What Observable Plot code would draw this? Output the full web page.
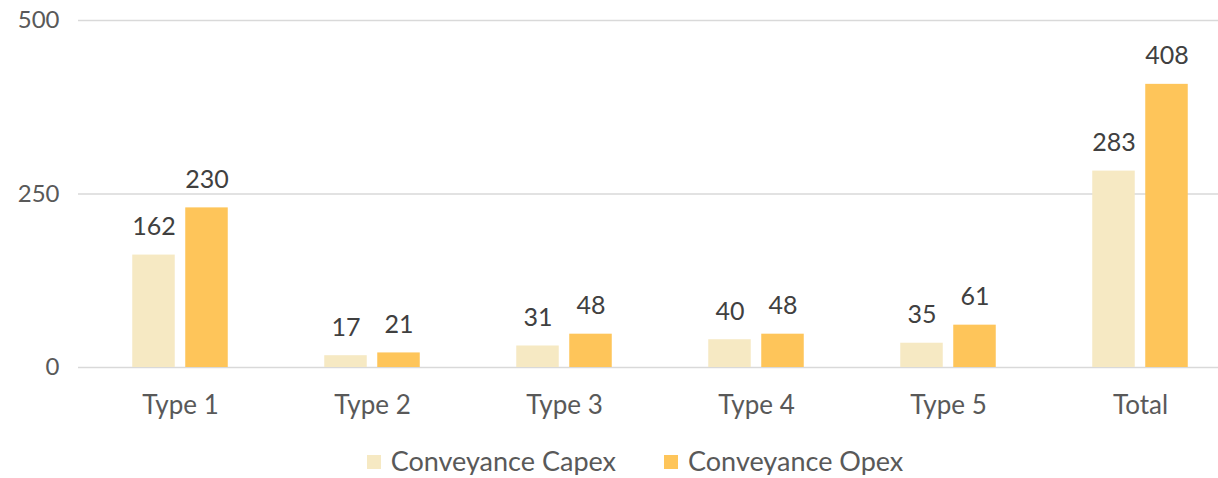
<!DOCTYPE html>
<html>
<head>
<meta charset="utf-8">
<script src="https://cdn.jsdelivr.net/npm/d3@7"></script>
<script src="https://cdn.jsdelivr.net/npm/@observablehq/plot@0.6"></script>
<style>
  body { margin: 0; background: #fff; font-family: Lato, "Open Sans", sans-serif; }
  #legend { display: flex; justify-content: center; gap: 48px; padding-top: 17px; font-size: 27px; line-height: 28px; color: #595959; padding-left: 52px; }
  #legend span.sw { display: inline-block; width: 14px; height: 14px; margin-right: 10px; vertical-align: 2px; }
</style>
</head>
<body>
<div id="chart"></div>
<script>
const categories = ["Type 1", "Type 2", "Type 3", "Type 4", "Type 5", "Total"];
const capex = [162, 17, 31, 40, 35, 283];
const opex = [230, 21, 48, 48, 61, 408];
const seriesNames = ["Conveyance Capex", "Conveyance Opex"];
const seriesColors = ["#F6E9C3", "#FEC55A"];
const yTicks = [0, 250, 500];

const capexData = categories.map((c, i) => ({category: c, value: capex[i]}));
const opexData = categories.map((c, i) => ({category: c, value: opex[i]}));

const font = "Lato, 'Open Sans', sans-serif";
const chart = Plot.plot({
  width: 1218,
  height: 430,
  marginTop: 20,
  marginBottom: 63,
  marginLeft: 78,
  marginRight: 0,
  style: {fontFamily: font, background: "#fff"},
  x: {domain: categories, range: [82, 1237], padding: 0},
  y: {domain: [0, 500]},
  marks: [
    Plot.ruleY(yTicks, {stroke: "#d9d9d9", strokeWidth: 1.5}),
    Plot.barY(capexData, {x: "category", y: "value", fill: seriesColors[0], insetLeft: 48.25, insetRight: 101.25}),
    Plot.barY(opexData, {x: "category", y: "value", fill: seriesColors[1], insetLeft: 101.25, insetRight: 48.25}),
    Plot.text(capexData, {x: "category", y: "value", text: d => String(d.value), dx: -26.5, dy: -28, fontSize: 25, fill: "#404040"}),
    Plot.text(opexData, {x: "category", y: "value", text: d => String(d.value), dx: 26.5, dy: -28, fontSize: 25, fill: "#404040"}),
    Plot.axisY({ticks: yTicks, tickSize: 0, tickPadding: 19, fontSize: 24, color: "#595959", label: null}),
    Plot.axisX({tickSize: 0, tickPadding: 28, fontSize: 26, color: "#595959", label: null})
  ]
});
document.getElementById("chart").appendChild(chart);

const legend = document.createElement("div");
legend.id = "legend";
seriesNames.forEach((n, i) => {
  const item = document.createElement("div");
  item.innerHTML = `<span class="sw" style="background:${seriesColors[i]}"></span>${n}`;
  legend.appendChild(item);
});
document.body.appendChild(legend);
</script>
</body>
</html>
